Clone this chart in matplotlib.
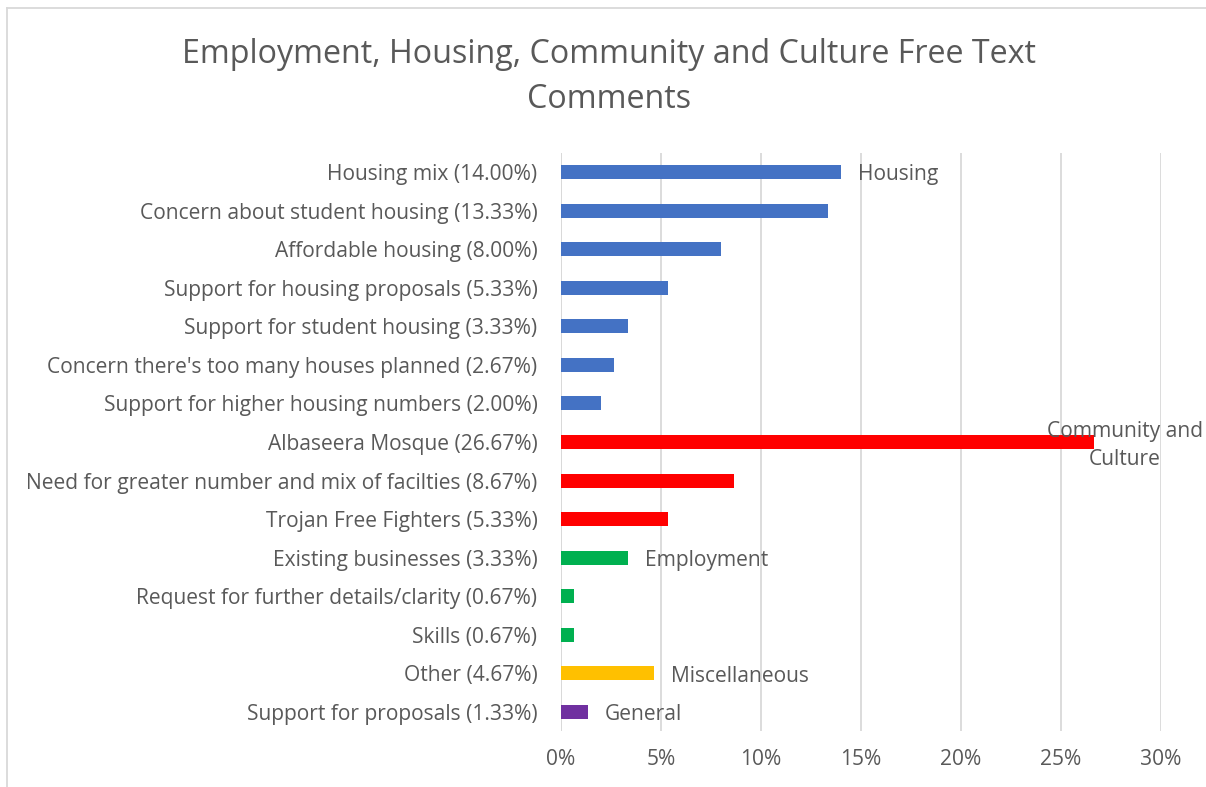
import matplotlib.pyplot as plt
from matplotlib.lines import Line2D

categories = [
    "Housing mix (14.00%)",
    "Concern about student housing (13.33%)",
    "Affordable housing (8.00%)",
    "Support for housing proposals (5.33%)",
    "Support for student housing (3.33%)",
    "Concern there's too many houses planned (2.67%)",
    "Support for higher housing numbers (2.00%)",
    "Albaseera Mosque (26.67%)",
    "Need for greater number and mix of facilties (8.67%)",
    "Trojan Free Fighters (5.33%)",
    "Existing businesses (3.33%)",
    "Request for further details/clarity (0.67%)",
    "Skills (0.67%)",
    "Other (4.67%)",
    "Support for proposals (1.33%)",
]
values = [14.00, 13.33, 8.00, 5.33, 3.33, 2.67, 2.00,
          26.67, 8.67, 5.33,
          3.33, 0.67, 0.67,
          4.67,
          1.33]
groups = ["Housing"] * 7 + ["Community and Culture"] * 3 + ["Employment"] * 3 \
    + ["Miscellaneous"] + ["General"]
group_colors = {
    "Housing": "#4472C4",
    "Community and Culture": "#FF0000",
    "Employment": "#00B050",
    "Miscellaneous": "#FFC000",
    "General": "#7030A0",
}
x_ticks = [0, 5, 10, 15, 20, 25, 30]

plt.rcParams["font.family"] = ["Open Sans", "DejaVu Sans"]
text_color = "#595959"
fs = 15.1

fig = plt.figure(figsize=(12.06, 7.87), dpi=100)
ax = fig.add_axes([561 / 1206, 1 - 731.3 / 787, 600 / 1206, 578.6 / 787])

n = len(categories)
ypos = list(range(n))
colors = [group_colors[g] for g in groups]
ax.barh(ypos, values, height=0.36, color=colors, zorder=3)

ax.set_ylim(n - 0.5, -0.5)
ax.set_xlim(0, 30)
ax.set_yticks(ypos)
ax.set_yticklabels(categories, fontsize=fs, color=text_color)
ax.set_xticks(x_ticks)
ax.set_xticklabels([f"{t}%" for t in x_ticks], fontsize=fs, color=text_color)
ax.tick_params(axis="both", length=0)
ax.tick_params(axis="y", pad=17)
ax.tick_params(axis="x", pad=13)
ax.grid(axis="x", color="#D9D9D9", linewidth=1.3, zorder=0)
for s in ax.spines.values():
    s.set_visible(False)
ax.axvline(0, color="#D9D9D9", linewidth=1.3, zorder=1)

# Group name beside the first bar of each group
seen = set()
for i, (g, v) in enumerate(zip(groups, values)):
    if g in seen:
        continue
    seen.add(g)
    if g == "Community and Culture":
        ax.text(28.2, i + 0.09, "Community and\nCulture", ha="center", va="center",
                fontsize=fs, color=text_color, linespacing=1.4, zorder=4,
                clip_on=False)
    else:
        ax.text(v + 0.85, i + 0.07, g, ha="left", va="center", fontsize=fs,
                color=text_color, zorder=4)

fig.text(0.505, 1 - 77 / 787, "Employment, Housing, Community and Culture Free Text\nComments",
         ha="center", va="center", fontsize=23.2, color=text_color, linespacing=1.45)

# Chart frame
fig.add_artist(Line2D([7 / 1206, 7 / 1206], [0, 1 - 8 / 787], color="#D9D9D9",
                      linewidth=1.3, transform=fig.transFigure))
fig.add_artist(Line2D([7 / 1206, 1], [1 - 8 / 787, 1 - 8 / 787], color="#D9D9D9",
                      linewidth=1.3, transform=fig.transFigure))

fig.savefig("out.png", dpi=100, facecolor="white")
